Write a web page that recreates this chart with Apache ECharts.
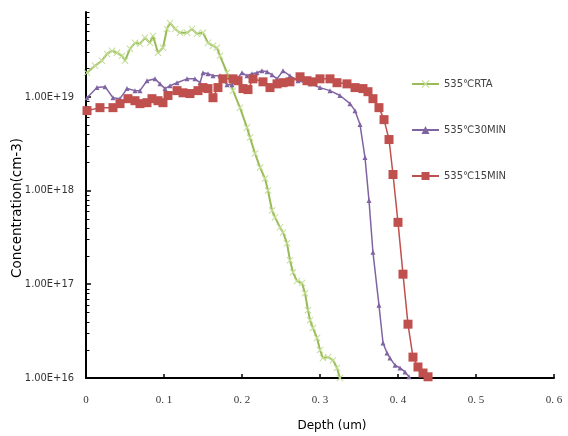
<!DOCTYPE html>
<html>
<head>
<meta charset="utf-8">
<script src="https://cdn.jsdelivr.net/npm/echarts@6/dist/echarts.min.js"></script>
<style>
html,body{margin:0;padding:0;background:#fff;}
#chart{width:568px;height:436px;}
</style>
</head>
<body>
<div id="chart"></div>
<script>
// ---- Data ----
const seriesNames = ['535℃RTA', '535℃30MIN', '535℃15MIN'];

const rtaDepth = [0.0013,0.0115,0.0205,0.0269,0.0333,0.0397,0.0462,0.0500,0.0564,0.0628,0.0692,0.0756,0.0820,0.0859,0.0923,0.0987,0.1038,0.1077,0.1141,0.1205,0.1295,0.1359,0.1423,0.1500,0.1564,0.1628,0.1679,0.1718,0.1808,0.1885,0.1974,0.2064,0.2103,0.2167,0.2231,0.2295,0.2333,0.2385,0.2423,0.2487,0.2526,0.2577,0.2615,0.2654,0.2705,0.2769,0.2808,0.2846,0.2872,0.2910,0.2962,0.3000,0.3038,0.3103,0.3167,0.3218,0.3256];
const rtaConc = [1.80e19,2.14e19,2.42e19,2.86e19,3.08e19,2.94e19,2.73e19,2.42e19,3.24e19,3.75e19,3.66e19,4.25e19,3.75e19,4.45e19,2.94e19,3.32e19,5.28e19,6.12e19,5.28e19,4.80e19,4.80e19,5.28e19,4.68e19,4.80e19,3.75e19,3.49e19,3.32e19,2.73e19,1.80e19,1.16e19,7.64e18,4.68e18,3.66e18,2.48e18,1.76e18,1.34e18,1.00e18,6.12e17,5.16e17,4.04e17,3.57e17,2.73e17,1.80e17,1.34e17,1.08e17,1.03e17,8.02e16,5.28e16,4.14e16,3.41e16,2.67e16,1.99e16,1.63e16,1.67e16,1.55e16,1.28e16,1.00e16];

const min30Depth = [0.0013,0.0141,0.0244,0.0346,0.0436,0.0526,0.0628,0.0692,0.0782,0.0885,0.0949,0.1013,0.1077,0.1167,0.1295,0.1397,0.1462,0.1500,0.1564,0.1628,0.1718,0.1808,0.1872,0.1936,0.2000,0.2064,0.2128,0.2192,0.2256,0.2321,0.2385,0.2449,0.2526,0.2615,0.2718,0.2872,0.3000,0.3128,0.3256,0.3385,0.3449,0.3513,0.3577,0.3628,0.3679,0.3756,0.3808,0.3859,0.3897,0.3962,0.4026,0.4090,0.4141];
const min30Conc = [9.75e18,1.25e19,1.28e19,9.75e18,9.52e18,1.22e19,1.16e19,1.16e19,1.48e19,1.55e19,1.37e19,1.22e19,1.31e19,1.41e19,1.55e19,1.55e19,1.41e19,1.80e19,1.76e19,1.67e19,1.67e19,1.34e19,1.34e19,1.55e19,1.80e19,1.67e19,1.76e19,1.80e19,1.89e19,1.85e19,1.71e19,1.55e19,1.89e19,1.67e19,1.48e19,1.37e19,1.25e19,1.16e19,1.03e19,8.43e18,7.10e18,5.04e18,2.24e18,7.83e17,2.19e17,5.98e16,2.36e16,1.85e16,1.63e16,1.37e16,1.28e16,1.16e16,1.03e16];

const min15Depth = [0.0013,0.0179,0.0346,0.0436,0.0538,0.0628,0.0692,0.0782,0.0846,0.0923,0.0987,0.1051,0.1167,0.1244,0.1333,0.1436,0.1500,0.1564,0.1628,0.1692,0.1756,0.1885,0.1949,0.2013,0.2077,0.2141,0.2269,0.2359,0.2449,0.2526,0.2615,0.2744,0.2833,0.2910,0.3000,0.3128,0.3218,0.3346,0.3449,0.3551,0.3615,0.3679,0.3756,0.3821,0.3885,0.3936,0.4000,0.4064,0.4128,0.4192,0.4256,0.4321,0.4385];
const min15Conc = [7.10e18,7.64e18,7.64e18,8.43e18,9.52e18,9.06e18,8.43e18,8.63e18,9.52e18,9.06e18,8.63e18,1.03e19,1.16e19,1.10e19,1.08e19,1.16e19,1.25e19,1.22e19,9.75e18,1.25e19,1.55e19,1.55e19,1.48e19,1.22e19,1.19e19,1.55e19,1.44e19,1.25e19,1.37e19,1.41e19,1.44e19,1.63e19,1.48e19,1.44e19,1.55e19,1.55e19,1.41e19,1.37e19,1.25e19,1.22e19,1.13e19,9.52e18,7.64e18,5.69e18,3.49e18,1.48e18,4.57e17,1.28e17,3.75e16,1.67e16,1.31e16,1.13e16,1.03e16];

// axis settings
const xMin = 0, xMax = 0.6, xStep = 0.1;
const yMin = 1e16, yMax = 8e19;

// ---- build ----
const zip = (a, b) => a.map((v, i) => [v, b[i]]);
const minorTickValues = [];
for (let n = 16; n <= 19; n++) {
  for (let k = 2; k <= 9; k++) {
    const v = k * Math.pow(10, n);
    if (v <= yMax * 1.0001) minorTickValues.push([0, v]);
  }
}
const xMarker = 'path://M0,1L1,0L5,4L9,0L10,1L6,5L10,9L9,10L5,6L1,10L0,9L4,5Z';

const chart = echarts.init(document.getElementById('chart'), null, {renderer: 'canvas'});
chart.setOption({
  animation: false,
  backgroundColor: '#ffffff',
  grid: {left: 86, right: 14, top: 12, bottom: 58},
  legend: {
    orient: 'vertical',
    left: 406,
    top: 74,
    itemGap: 36,
    itemWidth: 27,
    itemHeight: 10,
    data: seriesNames,
    textStyle: {fontSize: 10, color: '#404040', fontFamily: 'DejaVu Sans'}
  },
  xAxis: {
    type: 'value',
    min: xMin, max: xMax, interval: xStep,
    axisLine: {lineStyle: {color: '#000', width: 2}},
    axisTick: {inside: true, length: 4, lineStyle: {color: '#000', width: 1.5}},
    splitLine: {show: false},
    axisLabel: {
      margin: 17,
      color: '#333',
      fontSize: 11,
      fontFamily: 'Liberation Serif',
      formatter: v => v === 0 ? '0' : v.toFixed(1).replace('.', '. ')
    }
  },
  yAxis: {
    type: 'log',
    logBase: 10,
    min: yMin, max: yMax,
    axisLine: {lineStyle: {color: '#000', width: 2}},
    axisTick: {inside: true, length: 5, lineStyle: {color: '#000', width: 1.5}},
    splitLine: {show: false},
    axisLabel: {
      margin: 12,
      color: '#333',
      fontSize: 11,
      fontFamily: 'DejaVu Sans Condensed',
      showMaxLabel: false,
      formatter: v => {
        const e = Math.round(Math.log10(v));
        if (Math.abs(Math.log10(v) - e) > 0.01) return '';
        return '1.00E+' + e;
      }
    }
  },
  graphic: [
    {type: 'text', x: 332, y: 426, silent: true,
     style: {text: 'Depth (um)', fill: '#000', font: '12px "DejaVu Sans"', align: 'center', verticalAlign: 'middle'}},
    {type: 'text', x: 17, y: 208, rotation: Math.PI / 2, silent: true,
     style: {text: 'Concentration(cm-3)', fill: '#000', font: '13.5px "DejaVu Sans"', align: 'center', verticalAlign: 'middle'}}
  ],
  series: [
    {
      name: seriesNames[0], type: 'line',
      data: zip(rtaDepth, rtaConc),
      symbol: xMarker, symbolSize: 7,
      lineStyle: {color: '#9bbb59', width: 2},
      itemStyle: {color: '#c4de96'},
      emphasis: {disabled: true}
    },
    {
      name: seriesNames[1], type: 'line',
      data: zip(min30Depth, min30Conc),
      symbol: 'triangle', symbolSize: 5,
      lineStyle: {color: '#8064a2', width: 1.5},
      itemStyle: {color: '#8064a2'},
      emphasis: {disabled: true}
    },
    {
      name: seriesNames[2], type: 'line',
      data: zip(min15Depth, min15Conc),
      symbol: 'rect', symbolSize: 9,
      lineStyle: {color: '#c0504d', width: 1.5},
      itemStyle: {color: '#c0504d'},
      emphasis: {disabled: true}
    },
    {
      name: 'minorTicks', type: 'custom', silent: true,
      data: minorTickValues,
      encode: {x: 0, y: 1},
      clip: false,
      renderItem: (params, api) => {
        const p = api.coord([xMin, api.value(1)]);
        const y = Math.round(p[1]) + 0.5;
        return {type: 'line', shape: {x1: p[0], y1: y, x2: p[0] + 3.5, y2: y},
                style: {stroke: '#000', lineWidth: 1}};
      }
    }
  ]
});
</script>
</body>
</html>
